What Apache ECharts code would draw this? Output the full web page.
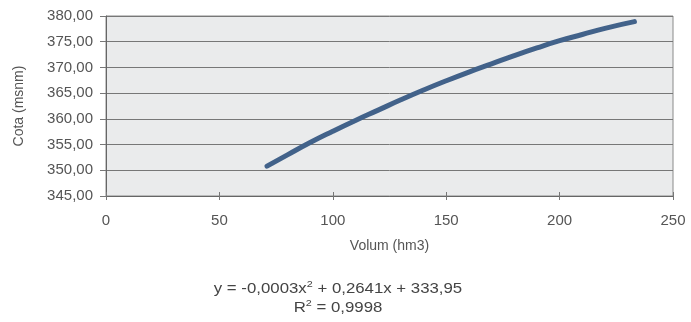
<!DOCTYPE html>
<html><head><meta charset="utf-8">
<script src="https://cdn.jsdelivr.net/npm/echarts@6/dist/echarts.min.js"></script>
<style>html,body{margin:0;padding:0;background:#fff;}#c{width:691px;height:322px;}</style>
</head><body><div id="c"></div>
<script>
var volum = [71, 80, 90, 100, 110, 120, 130, 140, 150, 160, 170, 180, 190, 200, 210, 220, 233];
var cota  = [350.8, 353.0, 355.4, 357.6, 359.7, 361.7, 363.7, 365.6, 367.4, 369.1, 370.7, 372.3, 373.8, 375.2, 376.4, 377.6, 378.9];
var xTicks = [0, 50, 100, 150, 200, 250];
var yTicks = [345, 350, 355, 360, 365, 370, 375, 380];
var eqText = 'y = -0,0003x{s|2} + 0,2641x + 333,95';
var r2Text = 'R{s|2} = 0,9998';

var font = 'Liberation Sans, Arial, sans-serif';
var txt = '#555';
var chart = echarts.init(document.getElementById('c'));
var pts = volum.map(function(v,i){return [v, cota[i]];});
var xMin = xTicks[0], xMax = xTicks[xTicks.length-1];
chart.setOption({
  animation: false,
  backgroundColor: '#fff',
  grid: {left: 106, right: 18, top: 16, bottom: 126, show: true, backgroundColor: '#eaebec', borderColor: '#8a8a8a', borderWidth: 1},
  xAxis: [{
    type: 'value', min: xMin, max: xMax, interval: 50,
    name: 'Volum (hm3)', nameLocation: 'middle', nameGap: 43,
    nameTextStyle: {fontFamily: font, fontSize: 14, color: txt},
    axisLine: {show: true, lineStyle: {color: '#666'}},
    axisTick: {show: true, length: 4, lineStyle: {color: '#777'}},
    axisLabel: {fontFamily: font, fontSize: 15, color: txt, margin: 17},
    splitLine: {show: false}
  }, {
    type: 'value', min: xMin, max: xMax, interval: 50, position: 'bottom',
    axisLine: {show: false},
    axisTick: {show: true, inside: true, length: 4, lineStyle: {color: '#777'}},
    axisLabel: {show: false}, splitLine: {show: false}
  }],
  yAxis: {
    type: 'value', min: yTicks[0], max: yTicks[yTicks.length-1], interval: 5,
    name: 'Cota (msnm)', nameLocation: 'middle', nameGap: 80,
    nameTextStyle: {fontFamily: font, fontSize: 14, color: txt},
    axisLine: {show: true, lineStyle: {color: '#666'}},
    axisTick: {show: true, length: 6, lineStyle: {color: '#777'}},
    axisLabel: {fontFamily: font, fontSize: 15, color: txt, margin: 13,
      formatter: function(v){return v.toFixed(2).replace('.', ',');}},
    splitLine: {show: true, lineStyle: {color: '#777', width: 1}}
  },
  series: [{
    type: 'line', data: pts, smooth: true, symbol: 'none',
    lineStyle: {color: '#42628a', width: 5, cap: 'round'}
  }],
  graphic: [
    {type: 'text', x: 338, y: 289, scaleX: 1.2,
     style: {text: eqText, fontFamily: font, fontSize: 14, fill: '#444', align: 'center', verticalAlign: 'middle',
       rich: {s: {fontSize: 9, verticalAlign: 'top', padding: [0,0,8,0], fontFamily: font, fill: '#444'}}}},
    {type: 'text', x: 338, y: 308, scaleX: 1.2,
     style: {text: r2Text, fontFamily: font, fontSize: 14, fill: '#444', align: 'center', verticalAlign: 'middle',
       rich: {s: {fontSize: 9, verticalAlign: 'top', padding: [0,0,8,0], fontFamily: font, fill: '#444'}}}}
  ]
});
</script></body></html>
